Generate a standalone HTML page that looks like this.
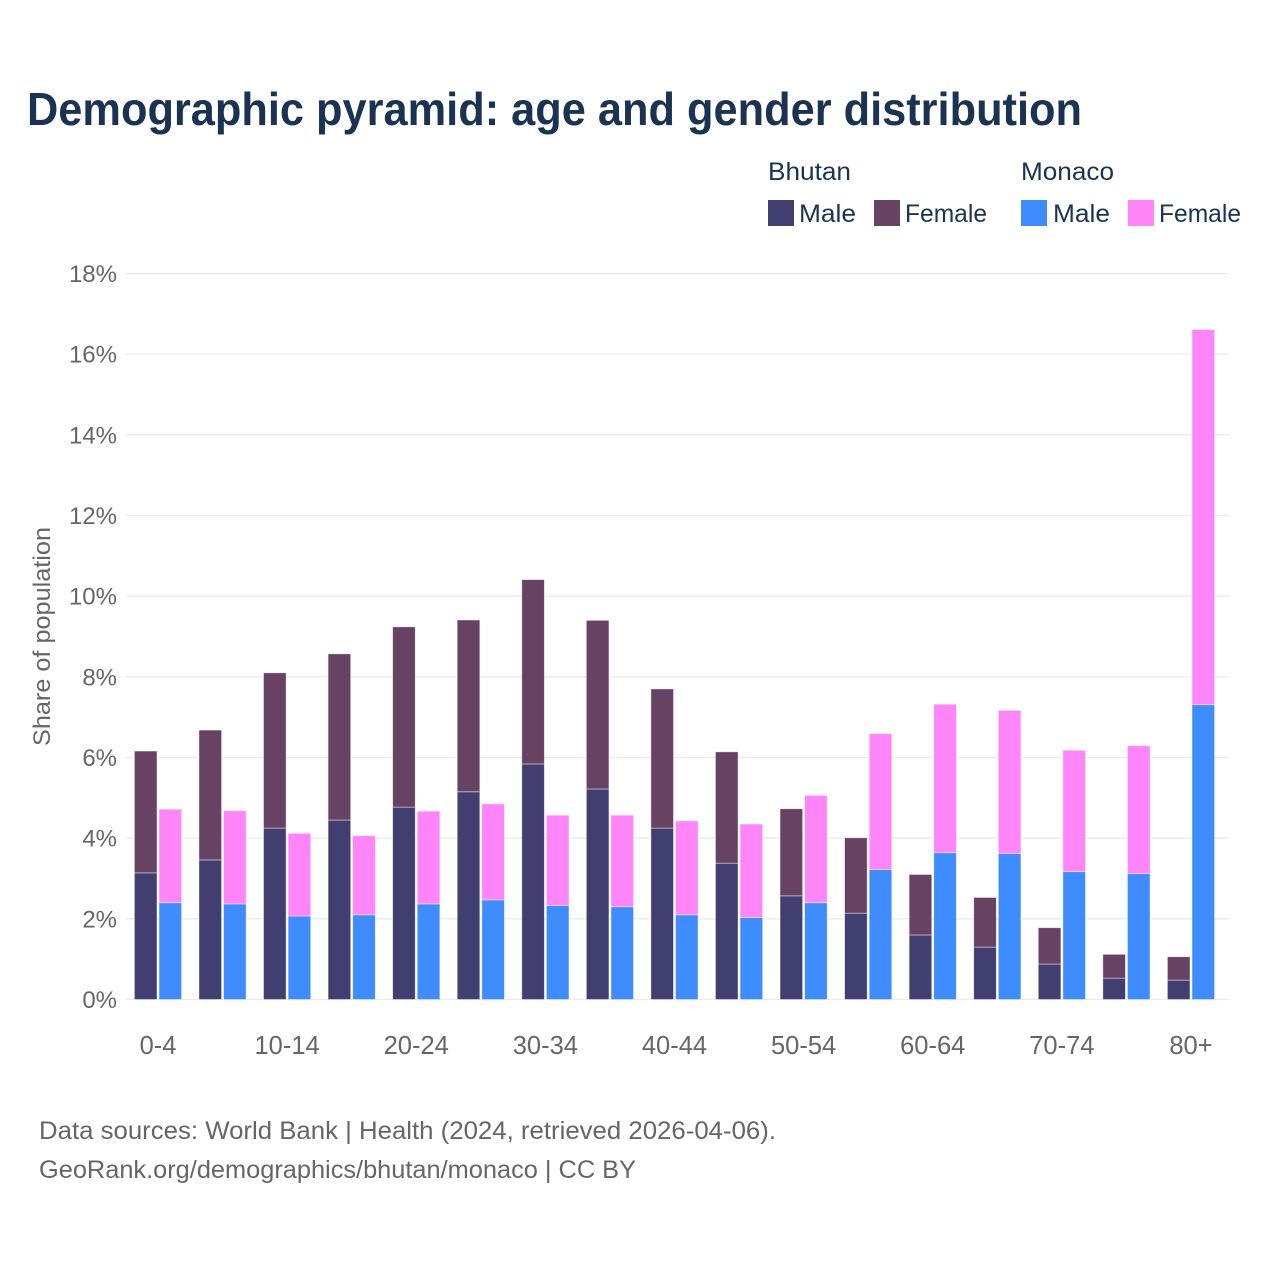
<!DOCTYPE html>
<html>
<head>
<meta charset="utf-8">
<title>Demographic pyramid</title>
<style>
html,body{margin:0;padding:0;background:#fff;width:1280px;height:1280px;overflow:hidden}
svg{display:block}
text{font-family:"Liberation Sans",sans-serif}
</style>
</head>
<body>
<svg id="chart" xmlns="http://www.w3.org/2000/svg" width="1280" height="1280" viewBox="0 0 1280 1280">
  <rect x="0" y="0" width="1280" height="1280" fill="#fff"/>
  <text x="27" y="125" font-size="46" font-weight="700" fill="#1a3353" textLength="1055" lengthAdjust="spacingAndGlyphs">Demographic pyramid: age and gender distribution</text>

  <g>
    <text x="768" y="180" font-size="25" fill="#1a3353" textLength="83" lengthAdjust="spacingAndGlyphs">Bhutan</text>
    <text x="1021" y="180" font-size="25" fill="#1a3353" textLength="93" lengthAdjust="spacingAndGlyphs">Monaco</text>
    <rect x="768" y="200" width="26" height="26" fill="#413f70"/>
    <text x="799" y="222" font-size="25" fill="#1a3353" textLength="57" lengthAdjust="spacingAndGlyphs">Male</text>
    <rect x="874" y="200" width="26" height="26" fill="#684262"/>
    <text x="905" y="222" font-size="25" fill="#1a3353" textLength="82" lengthAdjust="spacingAndGlyphs">Female</text>
    <rect x="1021" y="200" width="26" height="26" fill="#3f8cff"/>
    <text x="1053" y="222" font-size="25" fill="#1a3353" textLength="57" lengthAdjust="spacingAndGlyphs">Male</text>
    <rect x="1128" y="200" width="26" height="26" fill="#ff85f8"/>
    <text x="1159" y="222" font-size="25" fill="#1a3353" textLength="82" lengthAdjust="spacingAndGlyphs">Female</text>
  </g>

  <g id="grid"></g>
  <g id="bars"></g>
  <g id="yaxis"></g>
  <g id="xaxis"></g>

  <text x="0" y="0" transform="translate(50,636.5) rotate(-90)" text-anchor="middle" font-size="24" fill="#666" textLength="219" lengthAdjust="spacingAndGlyphs">Share of population</text>

  <text x="39" y="1139" font-size="25" fill="#666" textLength="737" lengthAdjust="spacingAndGlyphs">Data sources: World Bank | Health (2024, retrieved 2026-04-06).</text>
  <text x="39" y="1178" font-size="25" fill="#666" textLength="597" lengthAdjust="spacingAndGlyphs">GeoRank.org/demographics/bhutan/monaco | CC BY</text>
</svg>
<script>
const categories = ["0-4","5-9","10-14","15-19","20-24","25-29","30-34","35-39","40-44","45-49","50-54","55-59","60-64","65-69","70-74","75-79","80+"];
const bhutanMale = [3.14,3.46,4.25,4.45,4.77,5.15,5.84,5.22,4.25,3.38,2.57,2.14,1.60,1.30,0.88,0.53,0.48];
const bhutanFemale = [3.02,3.22,3.85,4.12,4.47,4.26,4.57,4.18,3.45,2.76,2.16,1.87,1.50,1.23,0.90,0.59,0.58];
const monacoMale = [2.40,2.37,2.07,2.10,2.37,2.47,2.33,2.30,2.10,2.03,2.40,3.22,3.64,3.62,3.17,3.12,7.31];
const monacoFemale = [2.32,2.31,2.05,1.96,2.30,2.38,2.24,2.27,2.33,2.32,2.66,3.37,3.68,3.55,3.01,3.17,9.30];
const yTicks = [0,2,4,6,8,10,12,14,16,18];
const xLabelStep = 2;

const NS = "http://www.w3.org/2000/svg";
const plotLeft = 126, plotRight = 1229;
const bandLeft = 125.72, bandRight = 1223.28;
function yScale(v){ return 999.5 - v * (726 / 18); }
function xCenter(i){ return bandLeft + (bandRight - bandLeft) * (i + 0.5) / categories.length; }

const gridG = document.getElementById("grid");
const yG = document.getElementById("yaxis");
const xG = document.getElementById("xaxis");
const barsG = document.getElementById("bars");

yTicks.forEach(function(t){
  const line = document.createElementNS(NS, "line");
  line.setAttribute("x1", plotLeft);
  line.setAttribute("x2", plotRight);
  line.setAttribute("y1", yScale(t));
  line.setAttribute("y2", yScale(t));
  line.setAttribute("stroke", "#ebebeb");
  line.setAttribute("stroke-width", "1.3");
  
  
  gridG.appendChild(line);

  const label = document.createElementNS(NS, "text");
  label.setAttribute("x", 117);
  label.setAttribute("y", yScale(t) + 8.5);
  label.setAttribute("text-anchor", "end");
  label.setAttribute("font-size", "24");
  label.setAttribute("fill", "#666");
  label.textContent = t + "%";
  
  
  yG.appendChild(label);
});

function drawBar(x, w, v0, v1, fill, group){
  const r = document.createElementNS(NS, "rect");
  r.setAttribute("x", x);
  r.setAttribute("width", w);
  r.setAttribute("y", yScale(v1));
  r.setAttribute("height", yScale(v0) - yScale(v1));
  r.setAttribute("fill", fill);
  r.setAttribute("stroke", "#fff");
  r.setAttribute("stroke-opacity", "0.55");
  r.setAttribute("stroke-width", "0.8");
  group.appendChild(r);
  return r;
}

categories.forEach(function(cat, i){
  const c = xCenter(i);
  const g = document.createElementNS(NS, "g");
  
  
  barsG.appendChild(g);

  const a = drawBar(c - 23.6, 22.6, 0, bhutanMale[i], "#413f70", g);
  
  
  const b = drawBar(c - 23.6, 22.6, bhutanMale[i], bhutanMale[i] + bhutanFemale[i], "#684262", g);
  
  
  const d = drawBar(c + 1, 22.6, 0, monacoMale[i], "#3f8cff", g);
  
  
  const e = drawBar(c + 1, 22.6, monacoMale[i], monacoMale[i] + monacoFemale[i], "#ff85f8", g);
  
  

  if (i % xLabelStep === 0) {
    const t = document.createElementNS(NS, "text");
    t.setAttribute("x", c);
    t.setAttribute("y", 1054);
    t.setAttribute("text-anchor", "middle");
    t.setAttribute("font-size", "25.5");
    t.setAttribute("fill", "#666");
    t.textContent = cat;
    
    
    xG.appendChild(t);
  }
});
</script>
</body>
</html>
